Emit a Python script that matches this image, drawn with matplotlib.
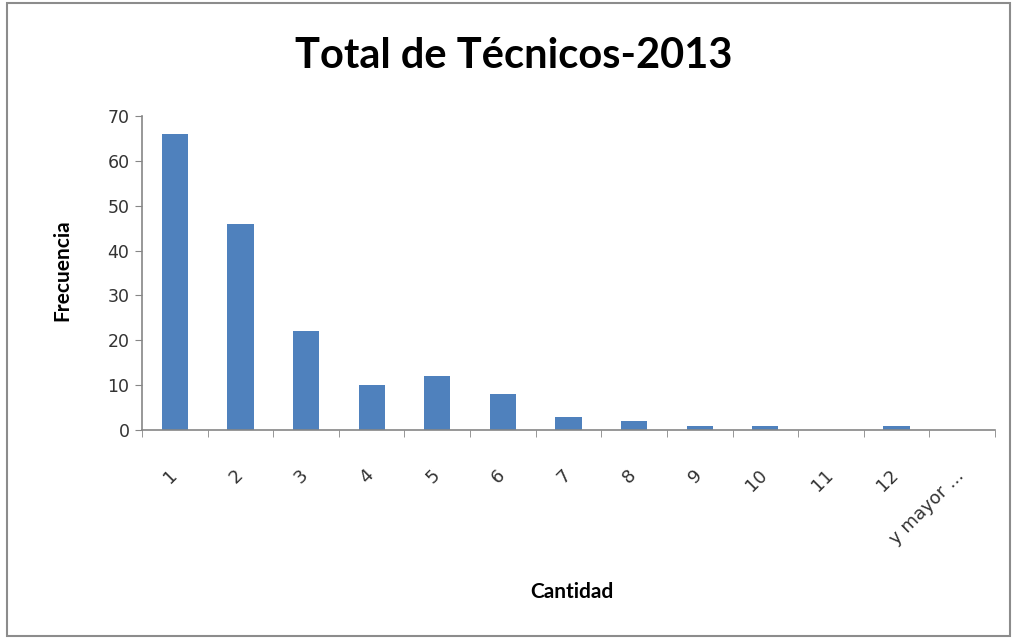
import matplotlib
matplotlib.use("Agg")
import matplotlib.pyplot as plt
import matplotlib.transforms as mtransforms
from matplotlib.patches import Rectangle

categories = ["1", "2", "3", "4", "5", "6", "7", "8", "9", "10", "11", "12", "y mayor ..."]
frecuencia = [66, 46, 22, 10, 12, 8, 3, 2, 1, 1, 0, 1, 0]

plt.rcParams["font.family"] = ["Lato", "DejaVu Sans"]

fig = plt.figure(figsize=(10.16, 6.4), dpi=100)
fig.patches.append(Rectangle((0.007, 0.006), 0.987, 0.99, transform=fig.transFigure,
                             fill=False, edgecolor="#8c8c8c", linewidth=1.5))

ax = fig.add_axes([0.1398, 0.328, 0.8395, 0.491])
x = list(range(len(categories)))
ax.bar(x, frecuencia, width=0.4, color="#4f81bd")

ax.set_xlim(-0.5, len(categories) - 0.5)
ax.set_ylim(0, 70)
ax.set_yticks(range(0, 71, 10))
ax.tick_params(axis="y", labelsize=12.5, direction="out", length=5, color="#868686",
               labelcolor="#333333", pad=4)
for lbl in ax.get_yticklabels():
    lbl.set_family("DejaVu Sans")

ax.set_xticks(x)
ax.set_xticklabels(categories, rotation=45, ha="right", rotation_mode="anchor",
                   fontsize=13, family="DejaVu Sans", color="#333333")
ax.tick_params(axis="x", length=0, pad=14)
# nudge rotated labels down-left like Excel
shift = mtransforms.ScaledTranslation(-5 / 72, -12 / 72, fig.dpi_scale_trans)
for lbl in ax.get_xticklabels():
    lbl.set_transform(lbl.get_transform() + shift)

# tick marks between categories
ax.set_xticks([i - 0.5 for i in range(len(categories) + 1)], minor=True)
ax.tick_params(axis="x", which="minor", direction="out", length=5, color="#868686")

for side in ["top", "right"]:
    ax.spines[side].set_visible(False)
for side in ["left", "bottom"]:
    ax.spines[side].set_color("#868686")
    ax.spines[side].set_linewidth(1.2)

fig.text(0.061, 0.578, "Frecuencia", fontsize=15, fontweight="bold", rotation=90,
         ha="center", va="center")
fig.text(0.5627, 0.075, "Cantidad", fontsize=15, fontweight="bold", ha="center", va="center")
fig.text(0.506, 0.912, "Total de Técnicos-2013", fontsize=30, fontweight="bold",
         ha="center", va="center")

fig.savefig("out.png", dpi=100)
plt.close(fig)
